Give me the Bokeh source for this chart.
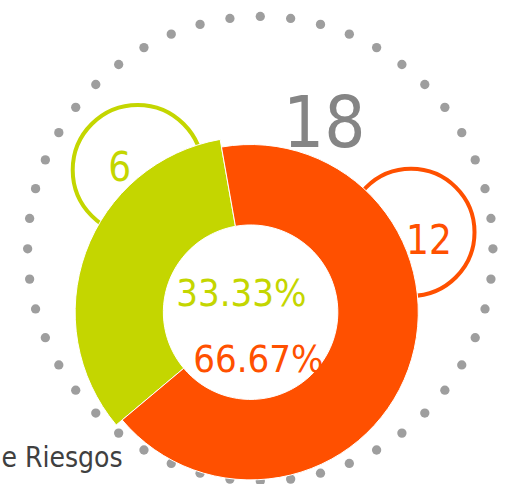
import math
from bokeh.plotting import figure
from bokeh.models import Range1d, ColumnDataSource
from bokeh.core.properties import value
from bokeh.embed import file_html
from bokeh.resources import INLINE

# ---- data ----
categories = ["Riesgo A", "Riesgo B"]
values = [6, 12]
colors = ["#C4D600", "#FF5000"]
total_label = "18"
title_text = "e Riesgos"

total = sum(values)
percents = ["%.2f%%" % (v * 100.0 / total) for v in values]

FONT = "DejaVu Sans Condensed"
CX, CY = 258, 178
INNER = 90
OUTER = [181, 173]
START = 100

p = figure(width=506, height=484, x_range=Range1d(0, 522), y_range=Range1d(0, 500),
           output_backend="svg", toolbar_location=None, min_border=0)
p.axis.visible = False
p.grid.visible = False
p.outline_line_color = None
p.background_fill_color = "white"
p.border_fill_color = "white"

# dotted ring
n_dots = 48
dx = [268 + 240 * math.cos(math.radians(90 + i * 360 / n_dots)) for i in range(n_dots)]
dy = [243.5 + 240 * math.sin(math.radians(90 + i * 360 / n_dots)) for i in range(n_dots)]
p.circle(dx, dy, radius=4.8, fill_color="#9E9E9E", line_color=None)

# value bubbles
p.circle([141.5], [325], radius=67, fill_color="white", line_color=colors[0], line_width=4)
p.circle([423.5], [260.5], radius=65.5, fill_color="white", line_color=colors[1], line_width=4)

# donut slices
starts, ends = [], []
a = START
for v in values:
    span = v * 360.0 / total
    starts.append(a)
    ends.append(a + span)
    a += span
src = ColumnDataSource(dict(start=starts, end=ends, outer=OUTER, color=colors))
p.annular_wedge(x=CX, y=CY, inner_radius=INNER, outer_radius="outer",
                start_angle="start", end_angle="end", start_angle_units="deg",
                end_angle_units="deg", direction="anticlock", fill_color="color",
                line_color="white", line_width=1, source=src)

# texts
p.text([334], [376], text=[total_label], text_font=value(FONT), text_font_size="72px",
       text_color="#858585", text_align="center", text_baseline="alphabetic")
p.text([123], [329], text=[str(values[0])], text_font=value(FONT), text_font_size="40px",
       text_color=colors[0], text_align="center", text_baseline="alphabetic")
p.text([442], [254], text=[str(values[1])], text_font=value(FONT), text_font_size="40px",
       text_color=colors[1], text_align="center", text_baseline="alphabetic")
p.text([248.5], [198], text=[percents[0]], text_font=value(FONT), text_font_size="38px",
       text_color=colors[0], text_align="center", text_baseline="alphabetic")
p.text([266], [130], text=[percents[1]], text_font=value(FONT), text_font_size="38px",
       text_color=colors[1], text_align="center", text_baseline="alphabetic")
p.text([1], [28], text=[title_text], text_font=value(FONT), text_font_size="28px",
       text_color="#404040", text_align="left", text_baseline="alphabetic")

open("out.html", "w").write(file_html(p, INLINE))
